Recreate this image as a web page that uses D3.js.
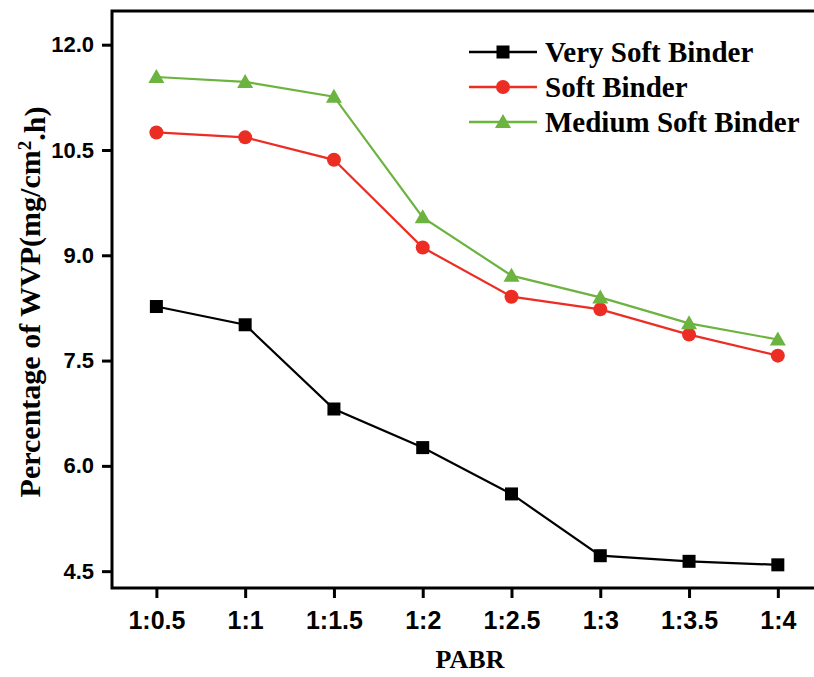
<!DOCTYPE html>
<html>
<head>
<meta charset="utf-8">
<script src="https://d3js.org/d3.v7.min.js"></script>
<style>
  body { margin: 0; background: #fff; }
  svg { display: block; }
</style>
</head>
<body>
<main></main>
<script>
const categories = ["1:0.5", "1:1", "1:1.5", "1:2", "1:2.5", "1:3", "1:3.5", "1:4"];
const verySoft = [8.27, 8.01, 6.81, 6.26, 5.60, 4.72, 4.64, 4.59];
const soft = [10.75, 10.68, 10.36, 9.11, 8.41, 8.23, 7.87, 7.57];
const mediumSoft = [11.54, 11.47, 11.26, 9.54, 8.71, 8.40, 8.03, 7.80];
const yTicks = [4.5, 6.0, 7.5, 9.0, 10.5, 12.0];

const series = [
  { name: "Very Soft Binder", values: verySoft, color: "#000000", shape: "square" },
  { name: "Soft Binder", values: soft, color: "#ec2d24", shape: "circle" },
  { name: "Medium Soft Binder", values: mediumSoft, color: "#6cb33f", shape: "triangle" }
];

const w = 814;
const h = 677;
const padL = 112, padR = 816, padT = 11, padB = 588;

const svg = d3.select("main")
  .append("svg")
  .attr("width", w)
  .attr("height", h);

const x = d3.scaleLinear()
  .domain([-0.5, 7.43])
  .range([padL, padR]);

const y = d3.scaleLinear()
  .domain([4.26, 12.48])
  .range([padB, padT]);

// frame (left, top, bottom)
svg.append("path")
  .attr("d", `M${padR},${padT}H${padL}V${padB}H${padR}`)
  .attr("fill", "none")
  .attr("stroke", "#000")
  .attr("stroke-width", 3);

const xAxis = svg.append("g")
  .attr("transform", `translate(0,${padB})`)
  .call(d3.axisBottom(x)
    .tickValues(d3.range(categories.length))
    .tickFormat(i => categories[i])
    .tickSize(10)
    .tickPadding(13));

const yAxis = svg.append("g")
  .attr("transform", `translate(${padL},0)`)
  .call(d3.axisLeft(y)
    .tickValues(yTicks)
    .tickFormat(d3.format(".1f"))
    .tickSize(10)
    .tickPadding(8));

[xAxis, yAxis].forEach(g => {
  g.select(".domain").remove();
  g.selectAll(".tick line").attr("stroke", "#000").attr("stroke-width", 3);
  g.selectAll(".tick text")
    .attr("fill", "#000")
    .style("font-family", "Arial, 'Liberation Sans', sans-serif")
    .style("font-weight", "bold");
});
xAxis.selectAll(".tick text").style("font-size", "25px");
yAxis.selectAll(".tick text").style("font-size", "22px");

const line = d3.line()
  .x((d, i) => x(i))
  .y(d => y(d));

function drawMarker(g, shape, color, cx, cy) {
  if (shape === "square") {
    g.append("rect")
      .attr("x", cx - 6.5).attr("y", cy - 6.5)
      .attr("width", 13).attr("height", 13)
      .attr("fill", color);
  } else if (shape === "circle") {
    g.append("circle")
      .attr("cx", cx).attr("cy", cy).attr("r", 7)
      .attr("fill", color);
  } else {
    g.append("path")
      .attr("d", `M${cx},${cy - 8}L${cx + 8},${cy + 6}L${cx - 8},${cy + 6}Z`)
      .attr("fill", color);
  }
}

series.forEach(s => {
  svg.append("path")
    .datum(s.values)
    .attr("d", line)
    .attr("fill", "none")
    .attr("stroke", s.color)
    .attr("stroke-width", 2.2);
  const g = svg.append("g");
  s.values.forEach((v, i) => drawMarker(g, s.shape, s.color, x(i), y(v)));
});

// legend
const legend = svg.append("g");
series.forEach((s, i) => {
  const ly = 52 + i * 35;
  legend.append("line")
    .attr("x1", 469).attr("x2", 537)
    .attr("y1", ly).attr("y2", ly)
    .attr("stroke", s.color)
    .attr("stroke-width", 2.5);
  drawMarker(legend, s.shape, s.color, 503, ly);
  legend.append("text")
    .attr("x", 545)
    .attr("y", ly)
    .attr("dy", "0.35em")
    .style("font-family", "'Liberation Serif', 'Times New Roman', serif")
    .style("font-weight", "bold")
    .style("font-size", "29px")
    .text(s.name);
});

// axis titles
svg.append("text")
  .attr("x", 470)
  .attr("y", 668)
  .attr("text-anchor", "middle")
  .style("font-family", "'Liberation Serif', 'Times New Roman', serif")
  .style("font-weight", "bold")
  .style("font-size", "26px")
  .text("PABR");

const yTitle = svg.append("text")
  .attr("transform", `translate(40,302) rotate(-90)`)
  .attr("text-anchor", "middle")
  .style("font-family", "'Liberation Serif', 'Times New Roman', serif")
  .style("font-weight", "bold")
  .style("font-size", "30px");
yTitle.append("tspan").text("Percentage of WVP(mg/cm");
yTitle.append("tspan").attr("dy", "-0.45em").style("font-size", "19px").text("2");
yTitle.append("tspan").attr("dy", "0.45em").text(".h)");
</script>
</body>
</html>
